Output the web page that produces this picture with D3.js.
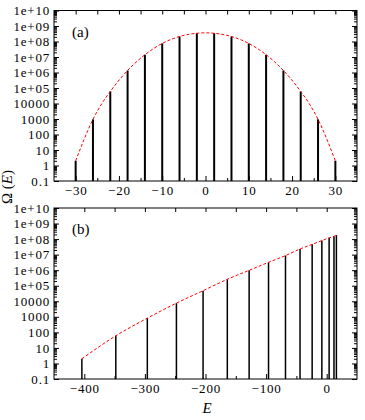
<!DOCTYPE html>
<meta charset="utf-8">
<script src="https://d3js.org/d3.v7.min.js"></script>
<style>
    body { margin: 0; background: #fff; }
    svg text { font-family: 'Times New Roman', 'Liberation Serif', Times, serif; fill: #000; }
</style>
<body>
<svg width="365" height="420"></svg>
<script>
    // panel (a): energies and density of states
    var energiesA = [-30, -26, -22, -18, -14, -10, -6, -2, 2, 6, 10, 14, 18, 22, 26, 30];
    var omegaA = [2, 950, 6e4, 1.35e6, 1.4e7, 7.5e7, 2.1e8, 3.4e8, 3.4e8, 2.1e8, 7.5e7, 1.4e7, 1.35e6, 6e4, 950, 2];
    var xTicksA = [-30, -20, -10, 0, 10, 20, 30];
    var xMinorA = [-35, -25, -15, -5, 5, 15, 25, 35];

    // panel (b)
    var energiesB = [-404, -348, -296, -248, -204, -164, -128, -96, -68, -44, -24, -8, 4, 12, 16];
    var omegaB = [2, 60, 820, 7600, 4.8e4, 2.6e5, 9.8e5, 3.2e6, 8.7e6, 2.3e7, 4.6e7, 8e7, 1.2e8, 1.5e8, 1.8e8];
    var xTicksB = [-400, -300, -200, -100, 0];
    var xMinorB = [-450, -350, -250, -150, -50, 50];

    // shared y ticks (log)
    var yTicks = [0.1, 1, 10, 100, 1000, 1e4, 1e5, 1e6, 1e7, 1e8, 1e9, 1e10];

    var svg = d3.select("svg");
    var left = 54, right = 357;
    var serif = "'Times New Roman', 'Liberation Serif', Times, serif";

    function yLabel(d) {
        if (d >= 1e5) return "1e+" + d3.format("02d")(Math.round(Math.log10(d)));
        return String(d);
    }

    // minor ticks between decades
    var yMinor = [];
    yTicks.slice(0, -1).forEach(function (d) {
        for (var k = 2; k <= 9; k++) yMinor.push(d * k);
    });

    function panel(top, bottom, xDomain, xt, xm, energies, omega, tag, barW) {
        var x = d3.scaleLinear().domain(xDomain).range([left, right]);
        var y = d3.scaleLog().domain([0.1, 1e10]).range([bottom, top]);
        var g = svg.append("g");

        // bars
        g.selectAll("line.bar")
            .data(energies)
            .enter()
            .append("line")
            .attr("x1", function (d) { return x(d); })
            .attr("x2", function (d) { return x(d); })
            .attr("y1", y(0.1))
            .attr("y2", function (d, i) { return y(omega[i]); })
            .attr("stroke", "#000")
            .attr("stroke-width", barW);

        // red dashed fit
        var line = d3.line()
            .x(function (d) { return x(d[0]); })
            .y(function (d) { return y(d[1]); })
            .curve(tag == "(a)" ? d3.curveNatural : d3.curveMonotoneX);
        g.append("path")
            .datum(energies.map(function (e, i) { return [e, omega[i]]; }))
            .attr("d", line)
            .attr("fill", "none")
            .attr("stroke", "#ff0000")
            .attr("stroke-width", 1)
            .attr("stroke-dasharray", "3,2");

        // x axes, ticks inward
        var inside = function (d) { return d > xDomain[0] && d < xDomain[1]; };
        g.append("g")
            .attr("transform", "translate(0," + bottom + ")")
            .call(d3.axisBottom(x).tickValues(xt).tickSize(-5).tickPadding(5).tickFormat(d3.format("d")));
        g.append("g")
            .attr("transform", "translate(0," + bottom + ")")
            .call(d3.axisBottom(x).tickValues(xm.filter(inside)).tickSize(-3).tickFormat(""));
        g.append("g")
            .attr("transform", "translate(0," + top + ")")
            .call(d3.axisTop(x).tickValues(xt.concat(xm).filter(inside)).tickSize(-4).tickFormat(""));

        // y axes, left with labels, right without
        g.append("g")
            .attr("transform", "translate(" + left + ",0)")
            .call(d3.axisLeft(y).tickValues(yTicks).tickSize(-5).tickPadding(4).tickFormat(yLabel));
        g.append("g")
            .attr("transform", "translate(" + left + ",0)")
            .call(d3.axisLeft(y).tickValues(yMinor).tickSize(-3).tickFormat(""));
        g.append("g")
            .attr("transform", "translate(" + right + ",0)")
            .call(d3.axisRight(y).tickValues(yTicks).tickSize(-5).tickFormat(""));
        g.append("g")
            .attr("transform", "translate(" + right + ",0)")
            .call(d3.axisRight(y).tickValues(yMinor).tickSize(-3).tickFormat(""));

        g.selectAll(".domain").remove();
        g.selectAll("g").attr("font-family", serif);
        g.selectAll(".tick line").attr("stroke", "#000");
        g.selectAll(".tick text")
            .style("font-size", "13px")
            .style("letter-spacing", "0.8px")
            .attr("fill", "#000");

        // frame
        g.append("rect")
            .attr("x", left).attr("y", top)
            .attr("width", right - left).attr("height", bottom - top)
            .attr("fill", "none").attr("stroke", "#000").attr("stroke-width", 1);

        g.append("text")
            .attr("x", 72).attr("y", top + 26)
            .style("font-size", "15px")
            .text(tag);
    }

    panel(10.5, 181, [-35, 35], xTicksA, xMinorA, energiesA, omegaA, "(a)", 2);
    panel(208, 379, [-450, 50], xTicksB, xMinorB, energiesB, omegaB, "(b)", 1.5);

    // axis titles
    var yt = svg.append("text")
        .attr("transform", "translate(12,187) rotate(-90)")
        .attr("text-anchor", "middle")
        .style("font-size", "15px");
    yt.append("tspan").text("\u03A9 (");
    yt.append("tspan").style("font-style", "italic").text("E");
    yt.append("tspan").text(")");

    svg.append("text")
        .attr("x", 207).attr("y", 413)
        .attr("text-anchor", "middle")
        .style("font-size", "15px")
        .style("font-style", "italic")
        .text("E");
</script>
</body>
